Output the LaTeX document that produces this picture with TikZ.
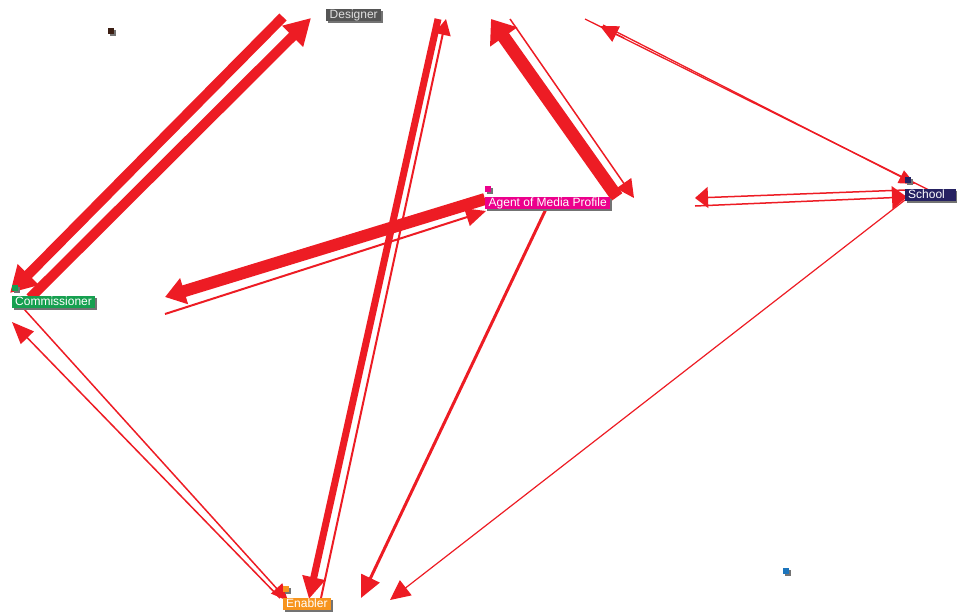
\documentclass[tikz,border=0pt]{standalone}
\usepackage{fontspec}
\setmainfont{Liberation Sans}
\usetikzlibrary{arrows.meta,shadows}
\definecolor{edgered}{HTML}{ED1C24}
\definecolor{desgray}{HTML}{555555}
\definecolor{comgreen}{HTML}{16A050}
\definecolor{agmag}{HTML}{EC008C}
\definecolor{schnavy}{HTML}{262262}
\definecolor{enorange}{HTML}{F7941D}
\definecolor{brownsq}{HTML}{3C1F14}
\definecolor{bluesq}{HTML}{1C75BC}
\tikzset{
  shd/.style={general shadow={fill=black!55, shadow xshift=2pt, shadow yshift=-2pt}},
  lbl/.style={anchor=north west, inner xsep=3pt, inner ysep=0pt, text height=9pt, text depth=2.6pt,
    font=\fontsize{12}{12}\selectfont, text=white, shd},
  sq/.style={anchor=north west, minimum size=6pt, inner sep=0pt, shd},
  edge/.style={draw=edgered, line join=miter},
  head/.style 2 args={-{Triangle[length=#1pt,width=#2pt]}}
}
\begin{document}
\begin{tikzpicture}[x=1pt,y=-1pt]
\useasboundingbox (0,0) rectangle (957,613);
% endpoints
\coordinate (c1s) at (30,298);  \coordinate (c1t) at (311,18);
\coordinate (c2s) at (283,17);  \coordinate (c2t) at (10,293);
\coordinate (e1s) at (438,19);  \coordinate (e1t) at (309,599);
\coordinate (e2s) at (321,598); \coordinate (e2t) at (446,19);
\coordinate (a1s) at (617,197); \coordinate (a1t) at (491,19);
\coordinate (a2s) at (510,19);  \coordinate (a2t) at (634,198);
\coordinate (sa1) at (945,198); \coordinate (sa2) at (585,19);
\coordinate (sah) at (624,38);  \coordinate (sat) at (600,26);
\coordinate (s2s) at (603,25);  \coordinate (s2t) at (915,184);
\coordinate (h1s) at (905,190); \coordinate (h1t) at (695,198);
\coordinate (h2s) at (695,206); \coordinate (h2t) at (907,197);
\coordinate (g1s) at (485,199); \coordinate (g1t) at (165,297);
\coordinate (g2s) at (165,314); \coordinate (g2t) at (486,211);
\coordinate (k1s) at (24,309);  \coordinate (k1t) at (288,601);
\coordinate (k2s) at (280,598); \coordinate (k2t) at (12,322);
\coordinate (m1s) at (546,209); \coordinate (m1t) at (361,598);
\coordinate (n1s) at (905,200); \coordinate (n1t) at (390,600);
% edges
\draw[edge, line width=10pt, head={26}{28}] (c1s) -- (c1t);
\draw[edge, line width=10pt, head={26}{28}] (c2s) -- (c2t);
\draw[edge, line width=7pt, head={22}{22}] (e1s) -- (e1t);
\draw[edge, line width=2pt, head={16}{16}] (e2s) -- (e2t);
\draw[edge, line width=13pt, head={22}{32}] (a1s) -- (a1t);
\draw[edge, line width=1.5pt, head={18}{18}] (a2s) -- (a2t);
\draw[edge, line width=1.3pt] (sa1) -- (sa2);
\draw[edge, line width=1.3pt, head={18}{17}] (sah) -- (sat);
\draw[edge, line width=1.3pt, head={16}{14}] (s2s) -- (s2t);
\draw[edge, line width=1.5pt, head={13}{21}] (h1s) -- (h1t);
\draw[edge, line width=1.5pt, head={15}{23}] (h2s) -- (h2t);
\draw[edge, line width=12pt, head={20}{26}] (g1s) -- (g1t);
\draw[edge, line width=2pt, head={20}{18}] (g2s) -- (g2t);
\draw[edge, line width=1.5pt, head={17}{15}] (k1s) -- (k1t);
\draw[edge, line width=1.5pt, head={22}{18}] (k2s) -- (k2t);
\draw[edge, line width=3pt, head={22}{20}] (m1s) -- (m1t);
\draw[edge, line width=1.2pt, head={20}{19}] (n1s) -- (n1t);
% nodes
\node[sq, fill=brownsq] (u1) at (108,28) {};
\node[sq, fill=bluesq] (u2) at (783,568) {};
\node[sq, fill=comgreen] (comsq) at (12,285) {};
\node[sq, fill=agmag] (agsq) at (485,186) {};
\node[sq, fill=schnavy] (schsq) at (905,177) {};
\node[sq, fill=enorange] (ensq) at (283,586) {};
\node[lbl, fill=desgray, text=white!88!black, minimum width=55pt] (des) at (326,9) {Designer};
\node[lbl, fill=comgreen] (com) at (12,296) {Commissioner};
\node[lbl, fill=agmag, minimum width=125pt] (ag) at (485,197) {Agent of Media Profile};
\node[lbl, fill=schnavy, text width=45pt, align=left] (sch) at (905,189) {\mbox{School}};
\node[lbl, fill=enorange] (en) at (283,598) {Enabler};
\end{tikzpicture}
\end{document}
